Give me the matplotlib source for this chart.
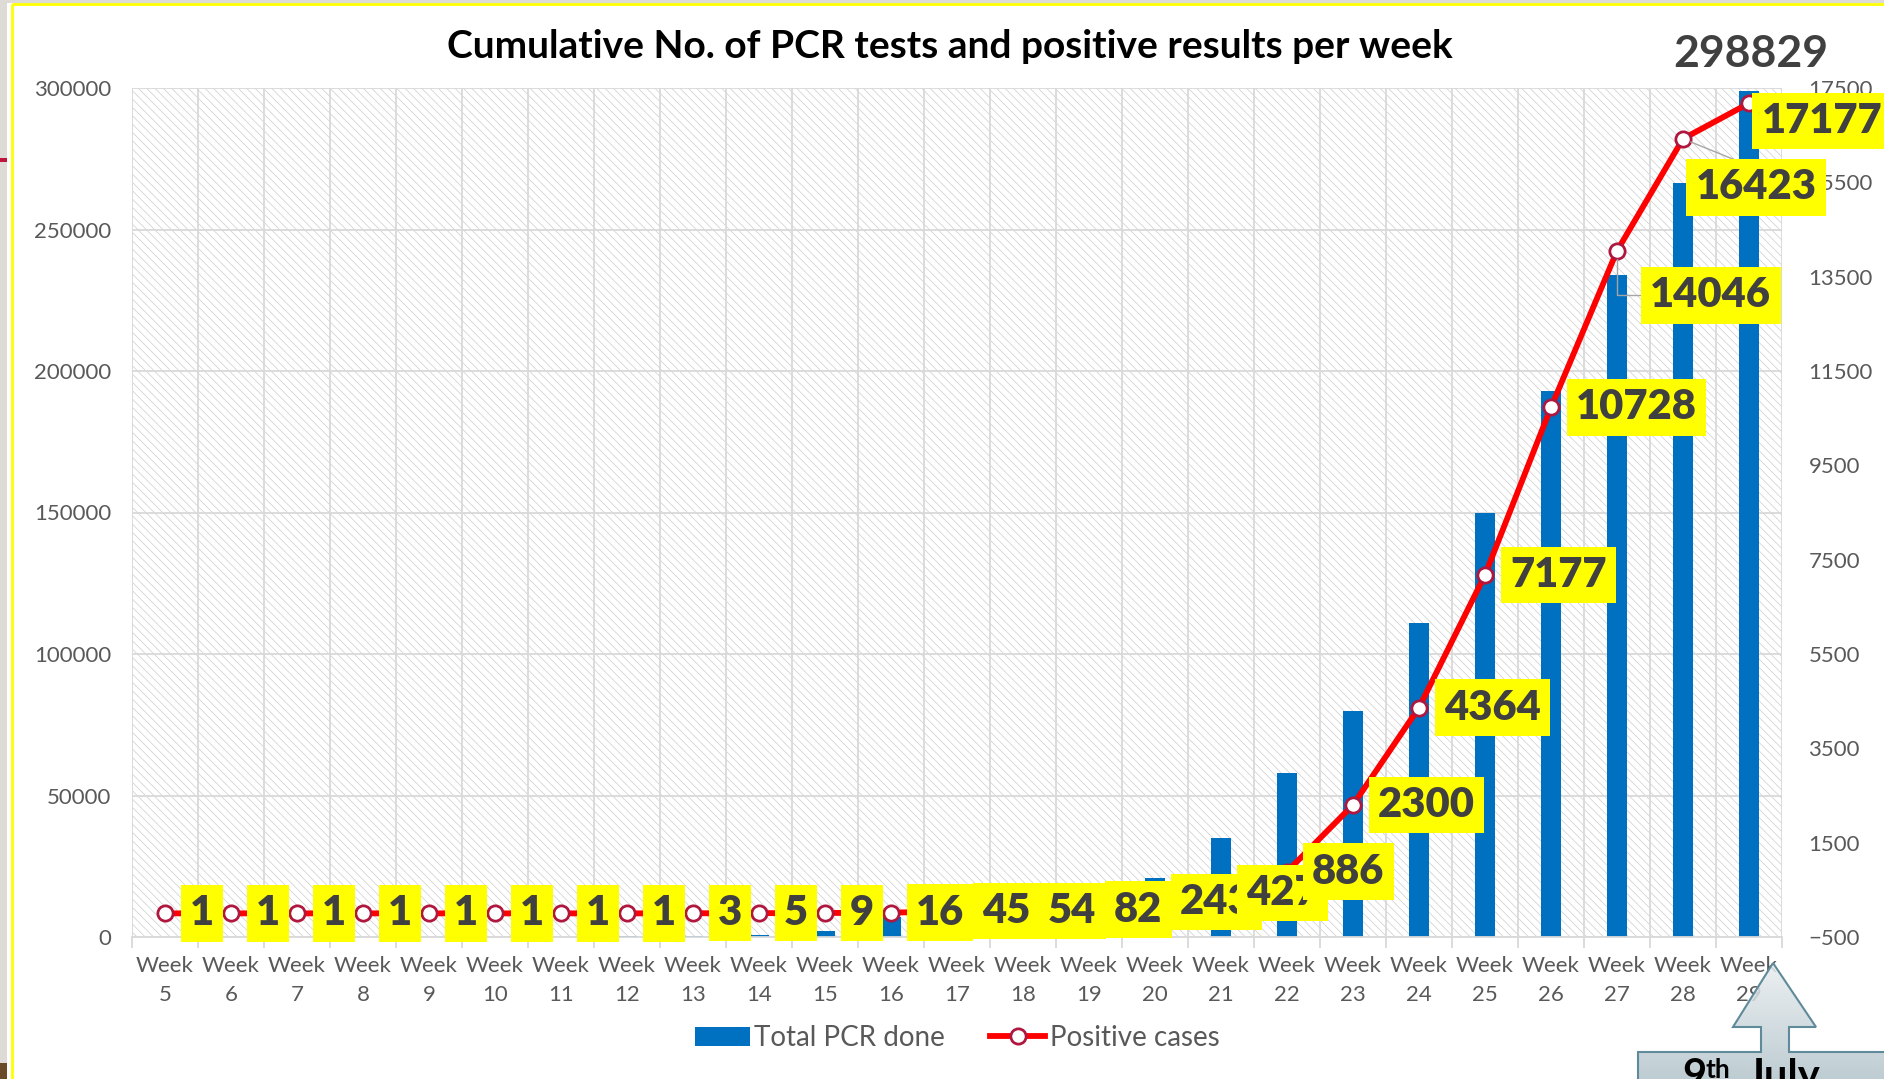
import numpy as np
import matplotlib
matplotlib.use('Agg')
import matplotlib.pyplot as plt
from matplotlib.patches import Rectangle, Polygon
from matplotlib.colors import LinearSegmentedColormap

# weekly cumulative numbers
weeks = list(range(5, 30))
week_labels = ["Week\n%d" % w for w in weeks]
total_pcr = [0, 0, 0, 0, 0, 0, 0, 300, 400, 700, 2000, 7000, 9500, 12500, 16000,
             21000, 35000, 58000, 80000, 111000, 150000, 193000, 234000, 266500, 298829]
positive = [1, 1, 1, 1, 1, 1, 1, 1, 3, 5, 9, 16, 45, 54, 82,
            243, 427, 886, 2300, 4364, 7177, 10728, 14046, 16423, 17177]

title = "Cumulative No. of PCR tests and positive results per week"
total_text = "298829"

W, H = 1884, 1079

plt.rcParams['font.family'] = ['Lato', 'DejaVu Sans']
plt.rcParams['hatch.linewidth'] = 0.5

grey_txt = '#595959'
dark_txt = '#404040'
grid_c = '#d9d9d9'

fig = plt.figure(figsize=(W / 100, H / 100), dpi=100)
ax = fig.add_axes([132 / W, 1 - 937 / H, 1650 / W, 849 / H])

x = np.arange(len(weeks))

# hatched plot background
bg = Rectangle((0, 0), 1, 1, transform=ax.transAxes, facecolor='white',
               edgecolor='#cdcdcd', lw=0, hatch='\\\\\\\\', zorder=0)
ax.add_patch(bg)

bars = ax.bar(x, total_pcr, width=0.3, color='#0070C0', zorder=2, label='Total PCR done')
ax.set_xlim(-0.5, len(weeks) - 0.5)
ax.set_ylim(0, 300000)
ax.set_yticks(np.arange(0, 300001, 50000))
ax.set_xticks(x)
ax.set_xticklabels(week_labels, linespacing=1.55)
ax.set_xticks(np.arange(-0.5, len(weeks)), minor=True)
ax.set_axisbelow(True)
ax.grid(axis='y', color=grid_c, lw=1.3)
ax.grid(axis='x', which='minor', color=grid_c, lw=1.3)
ax.tick_params(axis='x', which='major', length=0, pad=14, labelsize=16, labelcolor=grey_txt)
ax.tick_params(axis='x', which='minor', length=8, width=1.3, color=grid_c)
ax.tick_params(axis='y', length=0, pad=15, labelsize=16, labelcolor=grey_txt)
for s in ['top', 'left', 'right']:
    ax.spines[s].set_visible(False)
ax.spines['bottom'].set_color(grid_c)
ax.spines['bottom'].set_linewidth(1.3)

ax2 = ax.twinx()
ax2.set_ylim(-500, 17500)
ax2.set_yticks(np.arange(-500, 17501, 2000))
ax2.tick_params(length=0, pad=19, labelsize=16, labelcolor=grey_txt)
for s in ax2.spines.values():
    s.set_visible(False)

line, = ax2.plot(x, positive, color='#FF0000', lw=4.2, marker='o', ms=11,
                 mfc='white', mec='#B0173F', mew=2, zorder=3, label='Positive cases')

# label offsets (points) for the last few weeks that sit below their markers
special = {27: (24, -32, 'angle'), 28: (9, -35, 'top'), 29: (9, -13, None)}

for i, v in enumerate(positive):
    dx, dy, lead = special.get(weeks[i], (18, 0, None))
    arrow = None
    if lead == 'angle':
        arrow = dict(arrowstyle='-', color='#a6a6a6', lw=1, relpos=(0, 0.5),
                     connectionstyle='angle,angleA=0,angleB=90,rad=0', shrinkA=0, shrinkB=6)
    elif lead == 'top':
        arrow = dict(arrowstyle='-', color='#a6a6a6', lw=1, relpos=(0.5, 1), shrinkA=0, shrinkB=6)
    ax2.annotate(str(v), xy=(i, v), xytext=(dx, dy), textcoords='offset points',
                 ha='left', va='center', fontsize=30, fontweight='heavy', color=dark_txt,
                 bbox=dict(boxstyle='square,pad=0.22', fc='#FFFF00', ec='none'),
                 arrowprops=arrow, zorder=4, annotation_clip=False)

fig.text(0.504, 1 - 46 / H, title, ha='center', va='center', fontsize=28,
         fontweight='bold', color='black')
fig.text(1751 / W, 1 - 54 / H, total_text, ha='center', va='center', fontsize=32,
         fontweight='bold', color=dark_txt)

leg = fig.legend(handles=[bars, line], loc='center', bbox_to_anchor=(957 / W, 1 - 1038 / H),
                 ncol=2, frameon=False, fontsize=20, labelcolor=grey_txt,
                 handlelength=2.0, handletextpad=0.15, columnspacing=1.6)

# screenshot frame and the date arrow, drawn in pixel coords
ov = fig.add_axes([0, 0, 1, 1], zorder=10)
ov.patch.set_alpha(0)
ov.axis('off')
ov.add_patch(Rectangle((0, 0), 7, H, fc='#dedbd6', ec='none'))
ov.add_patch(Rectangle((0, 0), W, 3, fc='#dedbd6', ec='none'))
ov.add_patch(Rectangle((0, 158), 7, 4, fc='#c0143c', ec='none'))
ov.add_patch(Rectangle((0, 1063), 7, 16, fc='#6b4a2a', ec='none'))
ov.add_patch(Rectangle((12, 4), W, H + 50, fill=False, ec='#FFFF00', lw=2))

pts = [(1773, 963), (1816, 1027), (1789, 1027), (1789, 1052), (1900, 1052), (1900, 1100),
       (1638, 1100), (1638, 1052), (1761, 1052), (1761, 1027), (1733, 1027)]
clip = Polygon(pts, closed=True, fc='none', ec='none')
ov.add_patch(clip)
cmap = LinearSegmentedColormap.from_list('arrow', ['#eaeef0', '#a9bdc5'])
img = ov.imshow(np.linspace(0, 1, 100).reshape(-1, 1), cmap=cmap, aspect='auto',
                extent=(1630, 1900, 1100, 960), zorder=1, alpha=0.85)
img.set_clip_path(clip)
ov.add_patch(Polygon(pts, closed=True, fill=False, ec='#5f8a99', lw=1.5, zorder=2))
ov.text(1682, 1058, "9", fontsize=30, fontweight='bold', va='top', ha='left', color='black', zorder=3)
ov.text(1706, 1058, "th", fontsize=19, fontweight='bold', va='top', ha='left', color='black', zorder=3)
ov.text(1747, 1058, "July", fontsize=30, fontweight='bold', va='top', ha='left', color='black', zorder=3)
ov.set_xlim(0, W)
ov.set_ylim(H, 0)

fig.savefig('out.png', dpi=100)
